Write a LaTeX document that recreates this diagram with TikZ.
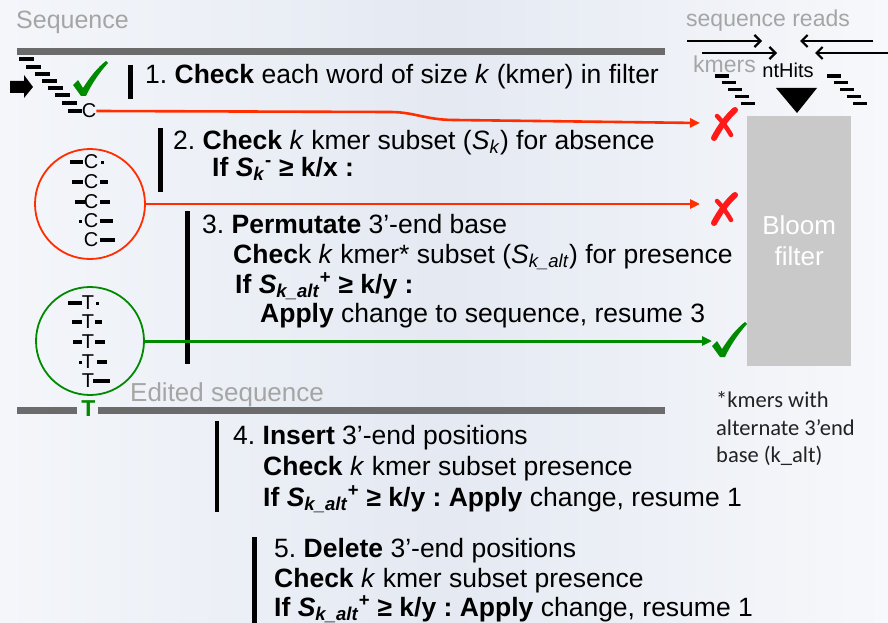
\documentclass[tikz,border=0pt]{standalone}
\usepackage{fontspec}
\setmainfont{Liberation Sans}
\newfontfamily\carlfont{Carlito}
\usetikzlibrary{arrows.meta}
\definecolor{bgL}{HTML}{F4F6FA}
\definecolor{bgM}{HTML}{E4E9F2}
\definecolor{bgR}{HTML}{F7F8FB}
\definecolor{grayT}{HTML}{A5A5A5}
\definecolor{barC}{HTML}{6B6B6B}
\definecolor{bloomC}{HTML}{C9C9C9}
\definecolor{redL}{HTML}{FF2D00}
\definecolor{redX}{HTML}{FF1A1A}
\definecolor{greenL}{HTML}{008A00}
\definecolor{footC}{HTML}{222222}
\newcommand\fs[1]{\fontsize{#1}{#1}\selectfont}
\frenchspacing
\begin{document}
\begin{tikzpicture}[x=1pt,y=-1pt,
  txt/.style={anchor=base west, inner sep=0pt, font=\fs{26.5}},
  gtxt/.style={anchor=base west, inner sep=0pt, text=grayT},
  foot/.style={anchor=base west, inner sep=0pt, text=footC, font=\carlfont\fs{22.5}},
  vbar/.style={line width=4.5pt},
  seqbar/.style={line width=7pt, draw=barC},
  kd/.style={line width=3.3pt},
  base/.style={inner sep=0pt, font=\fs{20}},
  redline/.style={draw=redL, line width=2.6pt, -{Triangle[length=10pt,width=9pt]}},
  greenline/.style={draw=greenL, line width=3pt, -{Triangle[length=10pt,width=9pt]}},
  readarrow/.style={line width=2.2pt, -{Straight Barb[length=6pt,width=12pt]}},
  checkm/.pic={\fill[greenL] (0,24) -- (5,19) -- (10,27) .. controls (17,16) and (25,6) .. (33,0)
     -- (35,2) .. controls (26,12) and (18,24) .. (13,35) -- (8,35) -- cycle;},
  crossm/.pic={\draw[redX, line width=6pt, line cap=round] (3,31) .. controls (9,20) and (16,10) .. (24,3);
     \draw[redX, line width=4.5pt, line cap=round] (6,9) .. controls (11,14) and (16,21) .. (20,28);}
]
\useasboundingbox (0,0) rectangle (888,623);
\shade[left color=bgL, right color=bgR, middle color=bgM] (0,0) rectangle (888,623);

% ---- Sequence bar ----
\node[gtxt, font=\fs{25}] (seqlab) at (16,29) {Sequence};
\draw[seqbar] (17,51.5) -- (665,51.5);

% staircase of kmers (step 1)
\foreach \xa/\xb/\yy in {19/34/59,26/41/67,35/50/74,42/57/81,48/63/88,55/70/95,62/77/103,68/82/111}
  \draw[kd] (\xa,\yy) -- (\xb,\yy);
\node[base] (c0) at (89,111) {C};
\fill (10,81) -- (24,81) -- (24,75) -- (33,87) -- (24,98) -- (24,93) -- (10,93) -- cycle;
\pic at (73,61) {checkm};

% step 1
\draw[vbar] (130.5,65) -- (130.5,99);
\node[txt] (s1) at (145,84) {1. \textbf{Check} each word of size \textit{k} (kmer) in filter};

% red line 1
\pic at (711,107) {crossm};
\coordinate (t1) at (700,123);
\draw[redline] (c0.east) -- (390,112) .. controls (415,112) and (425,120) .. (455,120) -- (t1);

% step 2
\draw[vbar] (160.5,128) -- (160.5,192);
\node[txt] (s2a) at (173,149) {2. \textbf{Check} \textit{k} kmer subset (\textit{S}\textsubscript{\textit{k}}) for absence};
\node[txt] (s2b) at (212,176) {\textbf{If \textit{S}\textsubscript{\textit{k}}\textsuperscript{-} ≥ k/x :}};

% red circle
\node[circle, draw=redL, line width=1.8pt, minimum size=110pt, inner sep=0pt] (rc) at (90,204) {};
\foreach \yy in {162,182,202,221,240} \node[base] at (91,\yy) {C};
\draw[kd] (70,162) -- (83,162);
\fill (101,160.5) rectangle (104,163.5);
\draw[kd] (72,182) -- (83,182); \draw[kd] (100,182) -- (108,182);
\draw[kd] (75,202) -- (85,202); \draw[kd] (100,202) -- (110,202);
\fill (79,219.5) rectangle (82,222.5); \draw[kd] (100,221) -- (113,221);
\draw[kd] (100,240) -- (115,240);

\pic at (711,192) {crossm};
\coordinate (t2) at (700,204);
\draw[redline] (rc.east) -- (t2);

% step 3
\draw[vbar] (187.5,211) -- (187.5,364);
\node[txt] (s3a) at (202,233) {3. \textbf{Permutate} 3’-end base};
\node[txt] (s3b) at (233,263) {\textbf{Chec}k \textit{k} kmer* subset (\textit{S}\textsubscript{\textit{k\_alt}}) for presence};
\node[txt] (s3c) at (235,293) {\textbf{If \textit{S}\textsubscript{\textit{k\_alt}}\textsuperscript{+} ≥ k/y :}};
\node[txt] (s3d) at (260,322) {\textbf{Apply} change to sequence, resume 3};

% green circle
\node[circle, draw=greenL, line width=1.8pt, minimum size=108pt, inner sep=0pt] (gc) at (90,341) {};
\foreach \yy in {303,322,342,362,381} \node[base] at (88,\yy) {T};
\draw[kd] (68,303) -- (82,303);
\fill (96,301.5) rectangle (99,304.5);
\draw[kd] (72,322) -- (82,322); \draw[kd] (95,322) -- (102,322);
\draw[kd] (73,342) -- (82,342); \draw[kd] (95,342) -- (105,342);
\fill (79,360.5) rectangle (82,363.5); \draw[kd] (97,362) -- (107,362);
\draw[kd] (93,381) -- (110,381);

\pic at (712,322) {checkm};
\coordinate (t3) at (712,341);
\draw[greenline] (gc.east) -- (t3);

% edited sequence
\node[gtxt, font=\fs{26}] (edlab) at (130,401) {Edited sequence};
\draw[seqbar] (17,410.5) -- (77,410.5);
\draw[seqbar] (98,410.5) -- (665,410.5);
\node[inner sep=0pt, text=greenL, font=\bfseries\fs{23}] (tt) at (88.5,409) {T};

% Bloom filter
\node[fill=bloomC, minimum width=104pt, minimum height=250pt, anchor=north west, inner sep=0pt,
      text=white, align=center, font=\fs{26}] (bf) at (747,116) {Bloom\\[5pt]filter};

% reads / ntHits
\node[gtxt, font=\fs{23}] (sr) at (686,27) {sequence reads};
\coordinate (r1a) at (687,41); \coordinate (r1b) at (762,41);
\coordinate (r2a) at (702,53); \coordinate (r2b) at (777,53);
\coordinate (r3a) at (873,41); \coordinate (r3b) at (800,41);
\coordinate (r4a) at (890,53); \coordinate (r4b) at (815,53);
\draw[readarrow] (r1a) -- (r1b);
\draw[readarrow] (r2a) -- (r2b);
\draw[readarrow] (r3a) -- (r3b);
\draw[readarrow] (r4a) -- (r4b);
\node[gtxt, font=\fs{23}] (km) at (693,73) {kmers};
\node[anchor=base, inner sep=0pt, font=\fs{20}] (nh) at (788,78) {ntHits};
\fill (776,88) -- (817,88) -- (797,113) -- cycle;
\foreach \i in {0,...,4} {
  \draw[kd] ({715+6.5*\i},{76+6.8*\i}) -- ({729+6.5*\i},{76+6.8*\i});
  \draw[kd] ({827+6.5*\i},{76+6.8*\i}) -- ({841+6.5*\i},{76+6.8*\i});
}

% footnote
\node[foot] (f1) at (716,407) {*kmers with};
\node[foot] (f2) at (716,435) {alternate 3’end};
\node[foot] (f3) at (716,462) {base (k\_alt)};

% step 4
\draw[vbar] (217,421) -- (217,512);
\node[txt] (s4a) at (233,444) {4. \textbf{Insert} 3’-end positions};
\node[txt] (s4b) at (263,475) {\textbf{Check} \textit{k} kmer subset presence};
\node[txt] (s4c) at (263,506) {\textbf{If \textit{S}\textsubscript{\textit{k\_alt}}\textsuperscript{+} ≥ k/y : Apply} change, resume 1};

% step 5
\draw[vbar] (254.5,537) -- (254.5,623);
\node[txt] (s5a) at (274,557) {5. \textbf{Delete} 3’-end positions};
\node[txt] (s5b) at (274,587) {\textbf{Check} \textit{k} kmer subset presence};
\node[txt] (s5c) at (274,616) {\textbf{If \textit{S}\textsubscript{\textit{k\_alt}}\textsuperscript{+} ≥ k/y : Apply} change, resume 1};
\end{tikzpicture}
\end{document}
